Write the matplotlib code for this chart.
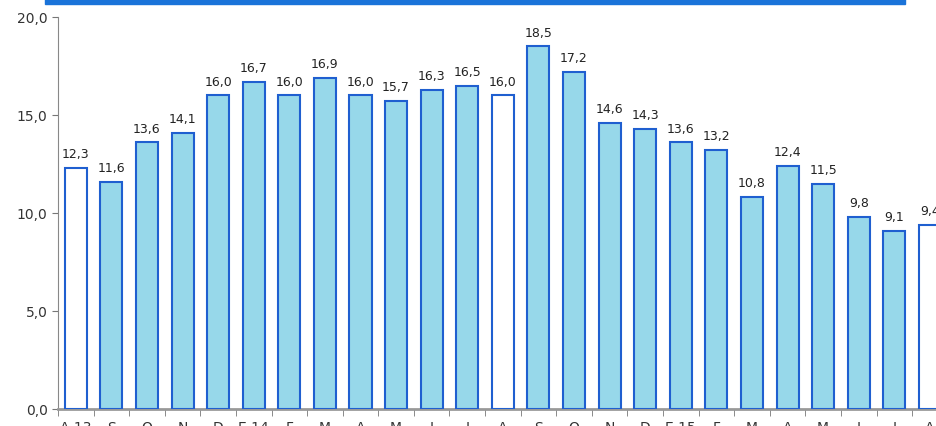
import numpy as np
import matplotlib.pyplot as plt

labels = ['A 13', 'S', 'O', 'N', 'D', 'E 14', 'F', 'M', 'A', 'M', 'J', 'J', 'A',
          'S', 'O', 'N', 'D', 'E 15', 'F', 'M', 'A', 'M', 'J', 'J', 'A']
values = [12.3, 11.6, 13.6, 14.1, 16.0, 16.7, 16.0, 16.9, 16.0, 15.7, 16.3, 16.5, 16.0,
          18.5, 17.2, 14.6, 14.3, 13.6, 13.2, 10.8, 12.4, 11.5, 9.8, 9.1, 9.4]
white = [0, 12, 24]

fig = plt.figure(figsize=(9.37, 4.27), dpi=100)
ax = fig.add_axes([58/937, (427-410)/427, (937-58)/937, (410-18)/427])
x = np.arange(len(values))
colors = ['white' if i in white else '#97d8ea' for i in x]
ax.bar(x, values, width=0.62, color=colors, edgecolor='#1f5fd0', linewidth=1.5, zorder=3, clip_on=True)
for i, v in enumerate(values):
    ax.text(i, v + 0.4, f'{v:.1f}'.replace('.', ','), ha='center', va='bottom', fontsize=9, color='#222222')
ax.set_xlim(-0.48, 24.2)
ax.set_ylim(0, 20)
ax.set_yticks([0, 5, 10, 15, 20])
ax.set_yticklabels(['0,0', '5,0', '10,0', '15,0', '20,0'], fontsize=10, color='#333333')
ax.set_xticks(x - 0.5, minor=True)
ax.set_xticks(x)
ax.set_xticklabels(labels, fontsize=10, color='#333333')
ax.tick_params(axis='x', which='major', length=0, pad=8)
ax.tick_params(axis='x', which='minor', length=5, color='#777777')
ax.tick_params(axis='y', length=4, color='#777777')
for s in ['top', 'right']:
    ax.spines[s].set_visible(False)
ax.spines['left'].set_color('#888888')
ax.spines['bottom'].set_color('#999999')
ax.spines['bottom'].set_linewidth(2)
fig.patches.append(plt.Rectangle((45/937, 422/427), (905-45)/937, 5/427,
                                 transform=fig.transFigure, color='#1a73d9'))
fig.savefig('out.png', dpi=100)
